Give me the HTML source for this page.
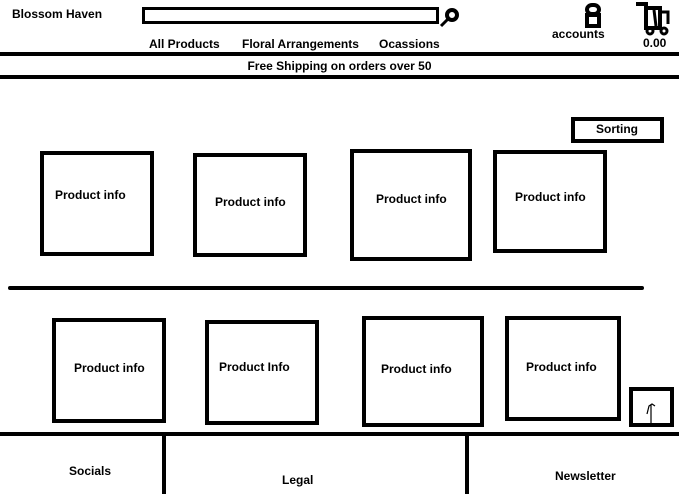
<!DOCTYPE html>
<html><head><meta charset="utf-8"><style>
body{margin:0;width:679px;height:494px;background:#fff;position:relative;overflow:hidden;font-family:"Liberation Sans",sans-serif;font-weight:bold;font-size:12px;color:#000}
div{position:absolute;box-sizing:border-box}
.b{border:4px solid #000}
.l{background:#000}
.t{white-space:nowrap}
</style></head><body>
<div class="t" style="left:12px;top:7px">Blossom Haven</div>
<div style="left:142px;top:7px;width:297px;height:17px;border:3px solid #000"></div>
<svg style="position:absolute;left:436px;top:6px" width="26" height="22"><circle cx="16" cy="9" r="5" fill="none" stroke="#000" stroke-width="4"/><line x1="12" y1="13" x2="5" y2="20" stroke="#000" stroke-width="3"/></svg>
<div class="t" style="left:149px;top:37px">All Products</div>
<div class="t" style="left:242px;top:37px">Floral Arrangements</div>
<div class="t" style="left:379px;top:37px">Ocassions</div>
<svg style="position:absolute;left:584px;top:2px" width="20" height="26"><rect x="3" y="3" width="12" height="9" rx="5" fill="none" stroke="#000" stroke-width="4"/><rect x="3" y="13" width="12" height="11" fill="none" stroke="#000" stroke-width="4"/></svg>
<div class="t" style="left:552px;top:27px">accounts</div>
<svg style="position:absolute;left:632px;top:0px" width="47" height="36"><path d="M4 4H14V28H28V8H16" fill="none" stroke="#000" stroke-width="4"/><line x1="22" y1="10" x2="24" y2="26" stroke="#000" stroke-width="3"/><circle cx="18" cy="31" r="3" fill="none" stroke="#000" stroke-width="3"/><circle cx="32" cy="31" r="3" fill="none" stroke="#000" stroke-width="3"/><path d="M30 12H36V24" fill="none" stroke="#000" stroke-width="3"/></svg>
<div class="t" style="left:643px;top:36px">0.00</div>
<div class="l" style="left:0;top:52px;width:679px;height:4px"></div>
<div class="t" style="left:0;width:679px;top:59px;text-align:center">Free Shipping on orders over 50</div>
<div class="l" style="left:0;top:75px;width:679px;height:4px"></div>
<div class="b" style="left:571px;top:117px;width:93px;height:26px"></div>
<div class="t" style="left:596px;top:122px">Sorting</div>

<div class="b" style="left:40px;top:151px;width:114px;height:105px"></div>
<div class="t" style="left:55px;top:188px">Product info</div>
<div class="b" style="left:193px;top:153px;width:114px;height:104px"></div>
<div class="t" style="left:215px;top:195px">Product info</div>
<div class="b" style="left:350px;top:149px;width:122px;height:112px"></div>
<div class="t" style="left:376px;top:192px">Product info</div>
<div class="b" style="left:493px;top:150px;width:114px;height:103px"></div>
<div class="t" style="left:515px;top:190px">Product info</div>

<div class="l" style="left:8px;top:286px;width:636px;height:4px;border-radius:2px"></div>

<div class="b" style="left:52px;top:318px;width:114px;height:105px"></div>
<div class="t" style="left:74px;top:361px">Product info</div>
<div class="b" style="left:205px;top:320px;width:114px;height:105px"></div>
<div class="t" style="left:219px;top:360px">Product Info</div>
<div class="b" style="left:362px;top:316px;width:122px;height:111px"></div>
<div class="t" style="left:381px;top:362px">Product info</div>
<div class="b" style="left:505px;top:316px;width:116px;height:105px"></div>
<div class="t" style="left:526px;top:360px">Product info</div>

<div class="b" style="left:629px;top:387px;width:45px;height:40px"></div>
<svg style="position:absolute;left:640px;top:400px" width="20" height="26"><path d="M7 14L9 6 12 4 15 6M11 5V24" fill="none" stroke="#000" stroke-width="1.2"/></svg>

<div class="l" style="left:0;top:432px;width:679px;height:4px"></div>
<div class="l" style="left:162px;top:432px;width:4px;height:62px"></div>
<div class="l" style="left:465px;top:432px;width:4px;height:62px"></div>
<div class="t" style="left:69px;top:464px">Socials</div>
<div class="t" style="left:282px;top:473px">Legal</div>
<div class="t" style="left:555px;top:469px">Newsletter</div>
</body></html>
